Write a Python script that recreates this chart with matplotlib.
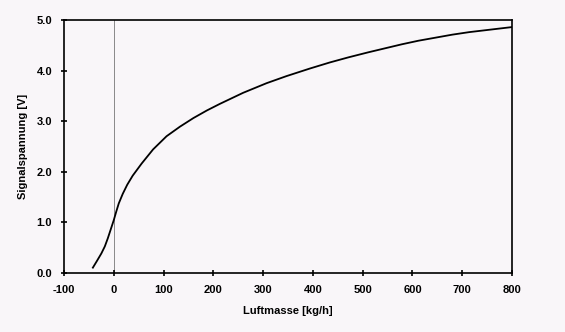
import matplotlib
matplotlib.use("Agg")
import matplotlib.pyplot as plt

# Data
luftmasse = [-42, -34, -25, -18, -12, -6, 0, 5, 10, 18, 27, 38, 56, 79, 106,
             133, 160, 187, 213, 260, 307, 347, 394, 434, 471, 511, 545, 579,
             612, 646, 680, 714, 757, 800]
signalspannung = [0.10, 0.23, 0.38, 0.52, 0.68, 0.86, 1.04, 1.21, 1.37, 1.56,
                  1.74, 1.92, 2.16, 2.44, 2.70, 2.89, 3.06, 3.21, 3.34, 3.56,
                  3.75, 3.89, 4.04, 4.16, 4.26, 4.36, 4.44, 4.52, 4.59, 4.65,
                  4.71, 4.76, 4.81, 4.86]
x_ticks = [-100, 0, 100, 200, 300, 400, 500, 600, 700, 800]
y_ticks = [0.0, 1.0, 2.0, 3.0, 4.0, 5.0]
y_tick_labels = ["0.0", "1.0", "2.0", "3.0", "4.0", "5.0"]

plt.rcParams['font.family'] = ['Liberation Sans', 'DejaVu Sans']
plt.rcParams['axes.unicode_minus'] = False
bg = '#f9f6f9'

fig = plt.figure(figsize=(5.65, 3.32), dpi=100, facecolor=bg)
ax = fig.add_axes([64/565, 1 - 272.7/332, (512-64)/565, (272.7-20)/332])
ax.set_facecolor(bg)

ax.axvline(0, color='#777777', linewidth=0.6, zorder=1)
ax.plot(luftmasse, signalspannung, color='black', linewidth=1.3, zorder=3,
        solid_joinstyle='round')

ax.set_xlim(-100, 800)
ax.set_ylim(0, 5.0)
ax.set_xticks(x_ticks)
ax.set_xticklabels([str(v) for v in x_ticks])
ax.set_yticks(y_ticks)
ax.set_yticklabels(y_tick_labels)

for s in ax.spines.values():
    s.set_linewidth(1.2)
    s.set_color('black')

ax.tick_params(direction='inout', length=5, width=1.2, labelsize=8, pad=6)
for lbl in ax.get_xticklabels() + ax.get_yticklabels():
    lbl.set_fontweight('bold')

ax.set_xlabel('Luftmasse [kg/h]', fontsize=8, fontweight='bold', labelpad=8)
ax.set_ylabel('Signalspannung [V]', fontsize=8, fontweight='bold', labelpad=6)

fig.savefig('out.png', dpi=100, facecolor=bg)
